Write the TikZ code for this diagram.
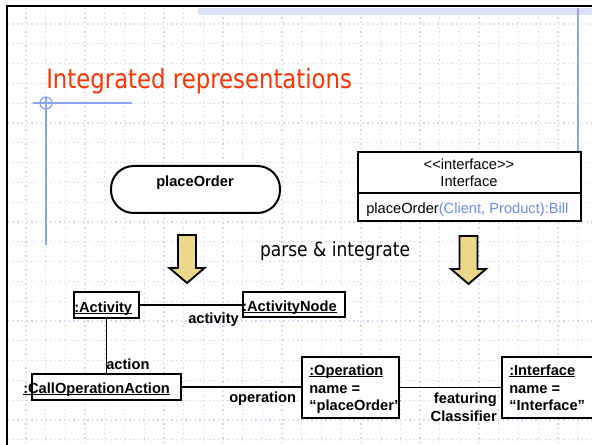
\documentclass[tikz,border=0pt]{standalone}
\usepackage{fontspec}
\setmainfont{Liberation Sans}
\newfontfamily\headfont{DejaVu Sans}
\usetikzlibrary{fit}

\definecolor{titlered}{RGB}{255,51,0}
\definecolor{gridblue}{RGB}{205,216,247}
\definecolor{guideblue}{RGB}{140,164,240}
\definecolor{bandblue}{RGB}{220,227,249}
\definecolor{paramblue}{RGB}{110,140,235}
\definecolor{arrowfill}{RGB}{234,216,136}

% underline drawn just below the baseline, through descenders
\newcommand\ulab[1]{\setbox0\hbox{#1}\rlap{\rule[-1.7pt]{\wd0}{0.9pt}}\box0}

\tikzset{
  objbox/.style={draw, line width=1.5pt, fill=white, inner sep=0pt},
  lab/.style={font=\fontsize{11}{13}\selectfont\bfseries, inner sep=0pt},
  plain/.style={font=\fontsize{11}{13}\selectfont, inner sep=0pt},
  link/.style={line width=1.4pt},
  gridline/.style={gridblue, line width=1pt, dash pattern=on 1.1pt off 2.4pt},
  guide/.style={guideblue, line width=1pt},
  fatarrow/.pic={\draw[line width=1.4pt, fill=arrowfill, line join=miter]
    (-9,0) -- (9,0) -- (9,33) -- (17.5,33) -- (0,48) -- (-17.5,33) -- (-9,33) -- cycle;},
}

\begin{document}
\begin{tikzpicture}[x=0.75pt,y=-0.75pt]
\useasboundingbox (0,0) rectangle (592,445);
\clip (0,0) rectangle (592,445);
\fill[white] (0,0) rectangle (592,445);

% slide background: dotted grid, band and frame
\foreach \i in {0,...,28}
  \draw[gridline] ({26+19.7*\i},8) -- ({26+19.7*\i},445);
\foreach \j in {0,...,21}
  \draw[gridline] (8,{24+19.8*\j}) -- (592,{24+19.8*\j});
\fill[bandblue] (198,8) rectangle (592,15);
\draw[line width=2pt] (7,445) -- (7,6) -- (592,6);

% layout guides
\draw[guide] (33,103) -- (132,103);
\draw[guide] (46,97) -- (46,245);
\draw[guide] (46,103) circle[radius=6];
\draw[guide] (578,8) -- (578,152);

% title
\node[anchor=base west, inner sep=0pt, text=titlered,
      font=\headfont\fontsize{20}{24}\selectfont] (title) at (46,89)
  {\scalebox{0.855}[1]{Integrated representations}};

% source notations
\node[objbox, rounded corners=17pt, fit={(111,166) (280,213)}] (activity) {};
\node[lab, anchor=base] (activityT) at (195,187) {placeOrder};

\node[objbox, fit={(358,152) (581,193)}] (clshead) {};
\node[objbox, fit={(358,193) (581,221)}] (clsops) {};
\node[plain, anchor=base] (stereo) at (469,170) {\mbox{<}\mbox{<}interface\mbox{>}\mbox{>}};
\node[plain, anchor=base] (clsname) at (469,187) {Interface};
\node[plain, anchor=base west] (clsop) at (366,214)
  {placeOrder\textcolor{paramblue}{(Client, Product):Bill}};

% transformation arrows
\pic (arrL) at (187,235) {fatarrow};
\pic (arrR) at (468.5,236) {fatarrow};
\node[inner sep=0pt, anchor=base, font=\headfont\fontsize{14.7}{17}\selectfont] (parse) at (335,257)
  {\scalebox{0.87}[1]{parse \& integrate}};

% object diagram
\node[objbox, fit={(74,292) (139,318)}] (act) {};
\node[objbox, fit={(243,292) (345,317)}] (actnode) {};
\node[objbox, fit={(32,374) (181,400)}] (callop) {};
\node[objbox, fit={(302,357) (399,418)}] (oper) {};
\node[objbox, fit={(502,357) (598,418)}] (iface) {};

\draw[link] (act.east) -- (act.east -| actnode.west);
\draw[link] (act.south) -- (act.south |- callop.north);
\draw[link] (callop.east) -- (callop.east -| oper.west);
\draw[link] (oper.east) -- (oper.east -| iface.west);

\node[lab, anchor=base west] (actT) at (74,312) {\ulab{:Activity}};
\node[lab, anchor=base west] (actnodeT) at (242,311) {\ulab{:ActivityNode}};
\node[lab, anchor=base west] (callopT) at (23,393) {\ulab{:CallOperationAction}};

\node[lab, anchor=base west] (operT1) at (309,375) {\ulab{:Operation}};
\node[lab, anchor=base west] (operT2) at (309,393) {name =};
\node[lab, anchor=base west] (operT3) at (309,410) {“placeOrder”};

\node[lab, anchor=base west] (ifaceT1) at (509,375) {\ulab{:Interface}};
\node[lab, anchor=base west] (ifaceT2) at (509,393) {name =};
\node[lab, anchor=base west] (ifaceT3) at (509,410) {“Interface”};

% role names
\node[lab, anchor=base west] (roleAct) at (188,323) {activity};
\node[lab, anchor=base west] (roleAction) at (106,369) {action};
\node[lab, anchor=base west] (roleOp) at (229,402) {operation};
\node[lab, anchor=base east] (roleFeat) at (497,403) {featuring};
\node[lab, anchor=base east] (roleCls) at (497,421) {Classifier};
\end{tikzpicture}
\end{document}
